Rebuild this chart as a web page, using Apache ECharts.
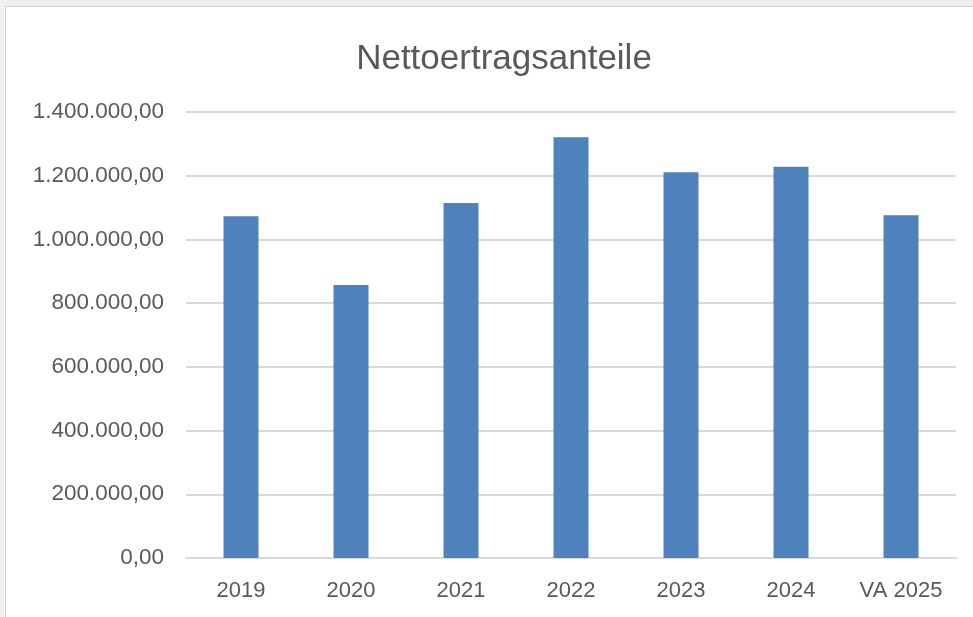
<!DOCTYPE html>
<html>
<head>
<meta charset="utf-8">
<script src="https://cdn.jsdelivr.net/npm/echarts@6/dist/echarts.min.js"></script>
<style>
  html, body { margin: 0; padding: 0; background: #f0f0f0; overflow: hidden; }
  #frame {
    position: absolute; left: 5px; top: 6px; width: 968px; height: 611px;
    background: #fff; border-left: 1px solid #d4d4d4; border-top: 1px solid #d4d4d4;
  }
  #chart { width: 967px; height: 610px; }
</style>
</head>
<body>
<div id="frame"><div id="chart"></div></div>
<script>
// Daten
var categories = ['2019', '2020', '2021', '2022', '2023', '2024', 'VA 2025'];
var values = [1073000, 857000, 1114000, 1321000, 1211000, 1228000, 1076000];
var yTicks = [0, 200000, 400000, 600000, 800000, 1000000, 1200000, 1400000];

function fmt(v) {
  var s = Math.round(v).toString().replace(/\B(?=(\d{3})+(?!\d))/g, '.');
  return s + ',00';
}

var myChart = echarts.init(document.getElementById('chart'));
var option = {
  animation: false,
  title: {
    text: 'Nettoertragsanteile',
    left: 493,
    top: 30,
    textAlign: 'center',
    textStyle: {
      color: '#595959',
      fontSize: 35,
      fontWeight: 'normal',
      fontFamily: 'Liberation Sans'
    }
  },
  grid: { left: 180, top: 105, width: 770, height: 446 },
  xAxis: {
    type: 'category',
    data: categories,
    axisLine: { lineStyle: { color: '#d9d9d9', width: 2 } },
    axisTick: { show: false },
    axisLabel: {
      color: '#595959',
      fontSize: 22,
      fontFamily: 'Liberation Sans',
      margin: 22
    }
  },
  yAxis: {
    type: 'value',
    min: yTicks[0],
    max: yTicks[yTicks.length - 1],
    interval: 200000,
    axisLine: { show: false },
    axisTick: { show: false },
    splitLine: { lineStyle: { color: '#d9d9d9', width: 2 } },
    axisLabel: {
      color: '#595959',
      fontSize: 22.5,
      fontFamily: 'Liberation Sans',
      margin: 22,
      formatter: fmt
    }
  },
  series: [{
    type: 'bar',
    data: values,
    barWidth: 35,
    itemStyle: { color: '#4f81bd' }
  }]
};
myChart.setOption(option);
</script>
</body>
</html>
